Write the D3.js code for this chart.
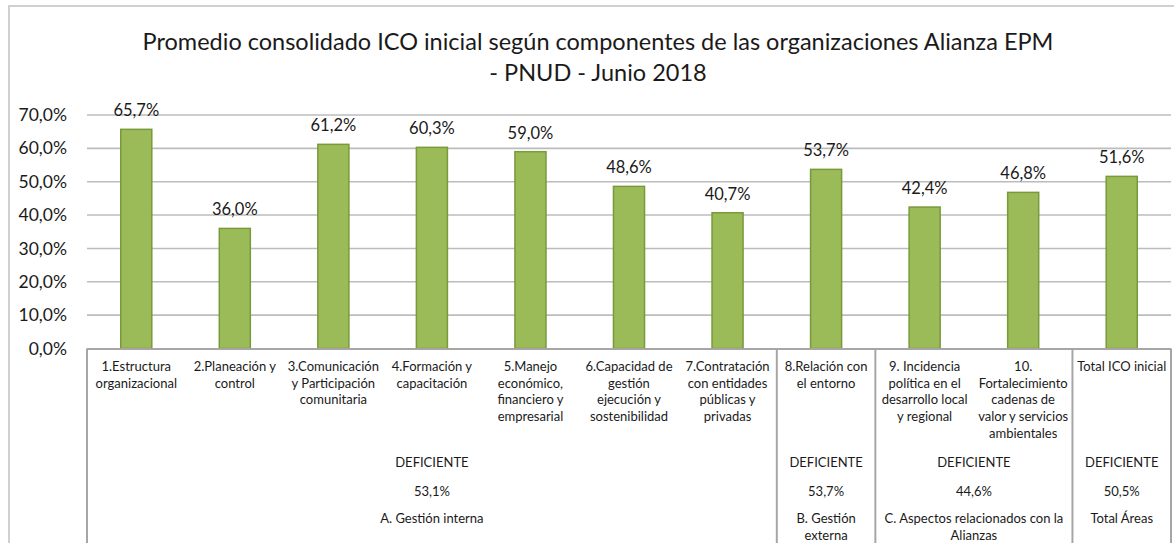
<!DOCTYPE html>
<html>
<head>
<meta charset="utf-8">
<script src="https://cdn.jsdelivr.net/npm/d3@7/dist/d3.min.js"></script>
<style>
  body { margin: 0; background: #fff; }
  svg text { font-family: Lato, "Open Sans", sans-serif; fill: #1a1a1a; }
</style>
</head>
<body>
<svg id="chart" width="1174" height="543"></svg>
<script>
// data
var categoryLines = [
    ["1.Estructura", "organizacional"],
    ["2.Planeación y", "control"],
    ["3.Comunicación", "y Participación", "comunitaria"],
    ["4.Formación y", "capacitación"],
    ["5.Manejo", "económico,", "financiero y", "empresarial"],
    ["6.Capacidad de", "gestión", "ejecución y", "sostenibilidad"],
    ["7.Contratación", "con entidades", "públicas y", "privadas"],
    ["8.Relación con", "el entorno"],
    ["9. Incidencia", "política en el", "desarrollo local", "y regional"],
    ["10.", "Fortalecimiento", "cadenas de", "valor y servicios", "ambientales"],
    ["Total ICO inicial"]
];
var values = [65.7, 36.0, 61.2, 60.3, 59.0, 48.6, 40.7, 53.7, 42.4, 46.8, 51.6];

var groupNames = [["A. Gestión interna"], ["B. Gestión", "externa"], ["C.  Aspectos relacionados con la", "Alianzas"], ["Total Áreas"]];
var groupRatings = ["DEFICIENTE", "DEFICIENTE", "DEFICIENTE", "DEFICIENTE"];
var groupScores = ["53,1%", "53,7%", "44,6%", "50,5%"];
var groupSizes = [7, 1, 2, 1];

var yTicks = [0, 10, 20, 30, 40, 50, 60, 70];
var titleLines = ["Promedio consolidado ICO inicial según componentes de las organizaciones Alianza EPM", "- PNUD - Junio 2018"];

var svg = d3.select("#chart");
var plotLeft = 87, plotRight = 1171, plotTop = 115, plotBottom = 348.5;

var fmt = v => v.toFixed(1).replace(".", ",") + "%";

// outer chart frame
svg.append("rect")
    .attr("x", 9).attr("y", 6)
    .attr("width", 1180).attr("height", 560)
    .attr("fill", "none")
    .attr("stroke", "#d0d0d0")
    .attr("stroke-width", 2);

// title
svg.append("g").selectAll("text").data(titleLines)
    .enter()
    .append("text")
    .attr("x", 598)
    .attr("y", (d, i) => 50 + i * 31)
    .attr("text-anchor", "middle")
    .attr("font-size", 23.5)
    .text(d => d);

var x = d3.scaleBand()
    .domain(d3.range(values.length))
    .range([plotLeft, plotRight])
    .paddingInner(0.685)
    .paddingOuter(0.3425);

var y = d3.scaleLinear()
    .domain([0, 70])
    .range([plotBottom, plotTop]);

// gridlines
svg.append("g").selectAll("line").data(yTicks.filter(d => d > 0))
    .enter()
    .append("line")
    .attr("x1", plotLeft).attr("x2", plotRight)
    .attr("y1", d => y(d)).attr("y2", d => y(d))
    .attr("stroke", "#bcbcbc")
    .attr("stroke-width", 1.6);

// y axis labels
var yAxis = d3.axisLeft(y).tickValues(yTicks).tickFormat(fmt).tickSize(0).tickPadding(0);
var yg = svg.append("g")
    .attr("transform", "translate(67,0)")
    .call(yAxis);
yg.select(".domain").remove();
yg.selectAll("text")
    .attr("font-size", 17.5)
    .attr("fill", "#1a1a1a")
    .style("font-family", "Lato, sans-serif");

// bars
svg.append("g").selectAll("rect").data(values)
    .enter()
    .append("rect")
    .attr("x", (d, i) => x(i))
    .attr("y", d => y(d))
    .attr("width", x.bandwidth())
    .attr("height", d => plotBottom - y(d))
    .attr("fill", "#9bbb59")
    .attr("stroke", "#789a3a")
    .attr("stroke-width", 1.5);

// value labels
svg.append("g").selectAll("text").data(values)
    .enter()
    .append("text")
    .attr("x", (d, i) => x(i) + x.bandwidth() / 2)
    .attr("y", d => y(d) - 13)
    .attr("text-anchor", "middle")
    .attr("font-size", 16.5)
    .text(fmt);

// category axis line
svg.append("line")
    .attr("x1", plotLeft).attr("x2", plotRight)
    .attr("y1", plotBottom + 0.5).attr("y2", plotBottom + 0.5)
    .attr("stroke", "#a6a6a6")
    .attr("stroke-width", 2);

// group boundaries
var step = x.step();
var bounds = [0];
groupSizes.forEach(s => bounds.push(bounds[bounds.length - 1] + s));

svg.append("g").selectAll("line").data(bounds)
    .enter()
    .append("line")
    .attr("x1", d => plotLeft + d * step).attr("x2", d => plotLeft + d * step)
    .attr("y1", plotBottom).attr("y2", 543)
    .attr("stroke", "#a6a6a6")
    .attr("stroke-width", 2);

// category labels
var cat = svg.append("g").selectAll("text").data(categoryLines)
    .enter()
    .append("text")
    .attr("text-anchor", "middle")
    .attr("font-size", 13);
cat.each(function (lines, i) {
    var cx = x(i) + x.bandwidth() / 2;
    d3.select(this).selectAll("tspan").data(lines)
        .enter()
        .append("tspan")
        .attr("x", cx)
        .attr("y", (d, j) => 371 + j * 16.7)
        .text(d => d);
});

// group labels
var groupCenter = i => plotLeft + (bounds[i] + bounds[i + 1]) / 2 * step;

svg.append("g").selectAll("text").data(groupRatings)
    .enter()
    .append("text")
    .attr("x", (d, i) => groupCenter(i))
    .attr("y", 467)
    .attr("text-anchor", "middle")
    .attr("font-size", 13)
    .text(d => d);

svg.append("g").selectAll("text").data(groupScores)
    .enter()
    .append("text")
    .attr("x", (d, i) => groupCenter(i))
    .attr("y", 496)
    .attr("text-anchor", "middle")
    .attr("font-size", 13)
    .text(d => d);

var gn = svg.append("g").selectAll("text").data(groupNames)
    .enter()
    .append("text")
    .attr("text-anchor", "middle")
    .attr("font-size", 13);
gn.each(function (lines, i) {
    var cx = groupCenter(i);
    d3.select(this).selectAll("tspan").data(lines)
        .enter()
        .append("tspan")
        .attr("x", cx)
        .attr("y", (d, j) => 523 + j * 17)
        .text(d => d);
});
</script>
</body>
</html>
